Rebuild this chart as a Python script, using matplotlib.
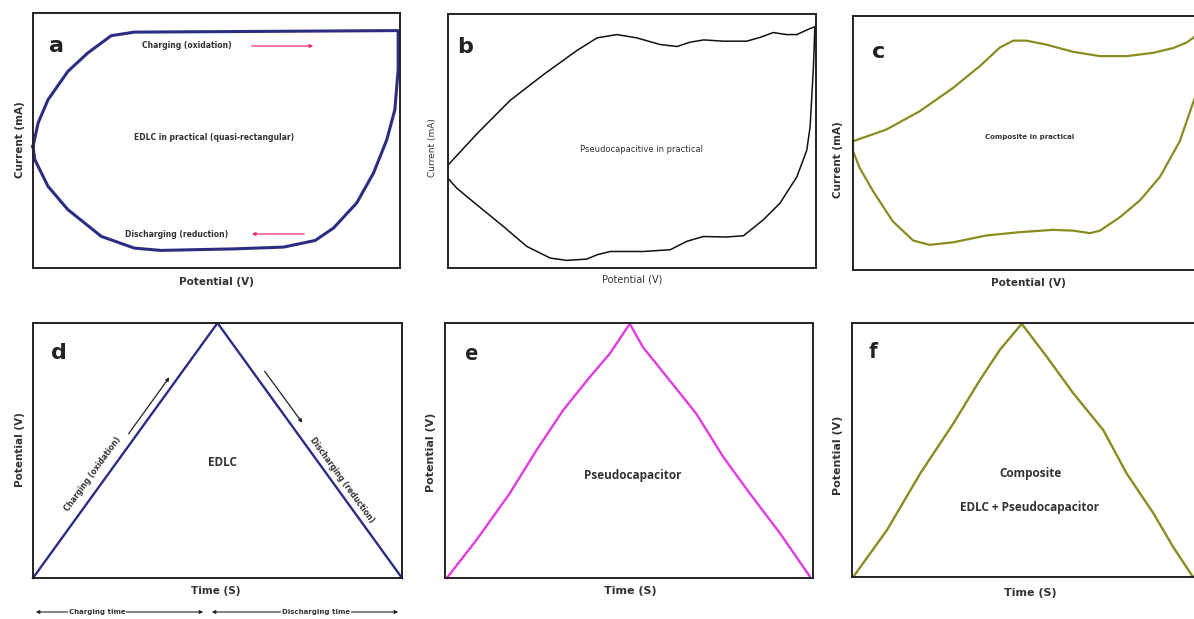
import matplotlib
matplotlib.use("Agg")
import matplotlib.pyplot as plt

W, H = 1194, 619

# ---- data (normalised 0-100 units) ----
# a: EDLC CV loop
a_x = [0, 1.4, 4.1, 9.5, 14.9, 21.3, 27.6, 99.5, 99.5, 98.6, 96.4, 92.8, 88.2, 81.9, 76.9,
       68.3, 54.8, 34.8, 27.6, 18.6, 9.5, 4.1, 0.5, 0]
a_y = [47.7, 56.9, 66.0, 77.1, 84.3, 91.1, 92.5, 93.1, 77.8, 62.1, 50.3, 37.3, 25.5, 15.7, 10.8,
       8.2, 7.5, 6.9, 7.8, 12.4, 22.9, 32.0, 42.5, 47.7]

# b: pseudocapacitive CV loop
b_x = [0, 7.9, 16.9, 26.0, 35.0, 40.5, 45.9, 51.3, 57.6, 62.2, 65.8, 69.5, 74.9, 81.2, 84.8,
       88.4, 92.0, 94.8, 97.5, 99.7, 99.3, 98.4, 97.5, 94.8, 90.2, 85.7, 80.3, 75.7, 69.4,
       64.9, 60.4, 53.1, 44.1, 40.5, 37.7, 32.3, 27.8, 21.4, 15.1, 7.9, 2.4, 0, 0]
b_y = [40.5, 52.9, 66.0, 76.2, 85.6, 90.6, 91.9, 90.6, 88.0, 87.2, 88.9, 89.8, 89.3, 89.3, 90.8,
       92.7, 91.9, 91.9, 93.7, 95.0, 79.1, 55.6, 46.4, 35.9, 25.5, 19.0, 12.7, 12.2, 12.4,
       10.5, 7.2, 6.5, 6.5, 5.2, 3.5, 3.0, 3.9, 8.5, 16.3, 24.8, 31.4, 35.3, 40.5]

# c: composite CV loop
c_x = [0, 9.7, 19.4, 29.1, 36.9, 42.7, 46.6, 50.4, 56.3, 64.0, 71.8, 79.5, 87.3, 93.1, 96.9,
       99.1, 100, 100, 99.1, 95.0, 89.2, 83.4, 77.6, 71.8, 68.9, 64.0, 58.2, 48.5, 38.8,
       29.1, 22.3, 17.5, 11.6, 5.8, 1.9, 0, 0]
c_y = [50.7, 55.3, 62.5, 71.7, 80.3, 87.6, 90.3, 90.3, 88.7, 85.9, 84.2, 84.2, 85.5, 87.4, 89.5,
       91.6, 93.0, 70.0, 66.8, 50.7, 36.6, 27.4, 20.8, 15.5, 14.5, 15.5, 15.8, 14.9, 13.6,
       10.9, 9.9, 11.6, 19.1, 31.1, 40.3, 46.8, 50.7]

# d: EDLC charge/discharge
d_x = [0, 50, 100]
d_y = [0, 100, 0]

# e: pseudocapacitor charge/discharge
e_x = [0.5, 8.6, 17.6, 24.9, 32.1, 39.4, 44.8, 50.2, 53.8, 61.1, 68.3, 75.6, 82.8, 91.0, 99.1]
e_y = [0, 15.0, 33.2, 50.2, 65.8, 78.9, 88.0, 99.7, 90.5, 77.4, 64.4, 47.5, 33.2, 17.6, 0.7]

# f: composite charge/discharge
f_x = [0.5, 10.1, 19.8, 29.4, 37.1, 42.9, 49.2, 56.4, 64.1, 72.8, 79.6, 87.4, 93.1, 98.7]
f_y = [0.3, 18.4, 40.8, 60.5, 77.6, 89.5, 99.7, 86.8, 72.4, 57.9, 40.8, 25.0, 11.8, 0.3]

NAVY = "#2b2e80"
OLIVE = "#8a8c22"
MAGENTA = "#e03ce0"
TXT = "#333333"

fig = plt.figure(figsize=(W / 100, H / 100), dpi=100)
fig.patch.set_facecolor("white")


def box(x0, y0, x1, y1):
    ax = fig.add_axes([x0 / W, 1 - y1 / H, (x1 - x0) / W, (y1 - y0) / H])
    ax.set_xlim(0, 100)
    ax.set_ylim(0, 100)
    ax.set_xticks([])
    ax.set_yticks([])
    for s in ax.spines.values():
        s.set_linewidth(1.4)
        s.set_color("#222222")
    return ax


def ftext(x, y, s, **kw):
    kw.setdefault("ha", "center")
    kw.setdefault("va", "center")
    kw.setdefault("color", TXT)
    fig.text(x / W, 1 - y / H, s, **kw)


def farrow(x0, y0, x1, y1, color, style="-|>", lw=0.9, ms=5):
    fig.patches.append(matplotlib.patches.FancyArrowPatch(
        (x0 / W, 1 - y0 / H), (x1 / W, 1 - y1 / H), transform=fig.transFigure,
        arrowstyle=style, mutation_scale=ms, color=color, lw=lw))


# panel a
ax = box(33, 13, 400, 268)
ax.plot(a_x, a_y, color=NAVY, lw=2.2, clip_on=False)
ftext(57, 46, "a", fontsize=16, fontweight="bold", color="#222222")
ftext(187, 45, "Charging (oxidation)", fontsize=5.5, fontweight="bold")
farrow(249, 46, 316, 46, "#e8306a")
ftext(214, 138, "EDLC in practical (quasi-rectangular)", fontsize=5.5, fontweight="bold")
ftext(177, 234, "Discharging (reduction)", fontsize=5.5, fontweight="bold")
farrow(307, 234, 249, 234, "#e8306a")
ftext(20, 140, "Current (mA)", fontsize=7.5, fontweight="bold", rotation=90)
ftext(216, 282, "Potential (V)", fontsize=7.5, fontweight="bold")

# panel b
ax = box(448, 14, 816, 268)
ax.plot(b_x, b_y, color="#111111", lw=1.1, clip_on=False)
ftext(465, 47, "b", fontsize=16, fontweight="bold", color="#222222")
ftext(642, 149, "Pseudocapacitive in practical", fontsize=6)
ftext(432, 148, "Current (mA)", fontsize=6.5, rotation=90)
ftext(632, 280, "Potential (V)", fontsize=7)

# panel c
ax = box(853, 16, 1197, 270)
ax.plot(c_x, c_y, color=OLIVE, lw=1.6, clip_on=False)
ftext(879, 52, "c", fontsize=16, fontweight="bold", color="#222222")
ftext(1030, 137, "Composite in practical", fontsize=5, fontweight="bold")
ftext(838, 160, "Current (mA)", fontsize=7.5, fontweight="bold", rotation=90)
ftext(1028, 283, "Potential (V)", fontsize=7.5, fontweight="bold")

# panel d
ax = box(33, 323, 402, 578)
ax.plot(d_x, d_y, color=NAVY, lw=1.7, clip_on=False)
ftext(59, 353, "d", fontsize=16, fontweight="bold", color="#222222")
ftext(222, 462, "EDLC", fontsize=8.5, fontweight="bold", family="Open Sans")
ftext(93, 474, "Charging (oxidation)", fontsize=5.5, fontweight="bold", rotation=54)
farrow(127, 436, 171, 375, "#222222")
ftext(342, 480, "Discharging (reduction)", fontsize=5.5, fontweight="bold", rotation=-54)
farrow(263, 369, 304, 425, "#222222")
ftext(216, 591, "Time (S)", fontsize=7.5, fontweight="bold")
ftext(20, 450, "Potential (V)", fontsize=7.5, fontweight="bold", rotation=90)
farrow(33, 612, 206, 612, "#222222", style="<|-|>", lw=0.8, ms=5)
farrow(209, 612, 401, 612, "#222222", style="<|-|>", lw=0.8, ms=5)
ftext(97, 612, "Charging time", fontsize=5, fontweight="bold",
      bbox=dict(facecolor="white", edgecolor="none", pad=0.5))
ftext(316, 612, "Discharging time", fontsize=5, fontweight="bold",
      bbox=dict(facecolor="white", edgecolor="none", pad=0.5))

# panel e
ax = box(445, 323, 813, 578)
ax.plot(e_x, e_y, color=MAGENTA, lw=1.7, clip_on=False)
ftext(472, 354, "e", fontsize=16, fontweight="bold", color="#222222", family="Open Sans")
ftext(633, 475, "Pseudocapacitor", fontsize=8.5, fontweight="bold", family="Open Sans")
ftext(431, 452, "Potential (V)", fontsize=8, fontweight="bold", rotation=90)
ftext(630, 591, "Time (S)", fontsize=8, fontweight="bold")

# panel f
ax = box(852, 323, 1197, 577)
ax.plot(f_x, f_y, color=OLIVE, lw=1.7, clip_on=False)
ftext(873, 353, "f", fontsize=16, fontweight="bold", color="#222222", family="Open Sans")
ftext(1030, 473, "Composite", fontsize=8.5, fontweight="bold", family="Open Sans")
ftext(1030, 507, "EDLC + Pseudocapacitor", fontsize=8.5, fontweight="bold", family="Open Sans")
ftext(838, 455, "Potential (V)", fontsize=8, fontweight="bold", rotation=90)
ftext(1030, 593, "Time (S)", fontsize=8, fontweight="bold")

fig.savefig("out.png", dpi=100, facecolor="white")
